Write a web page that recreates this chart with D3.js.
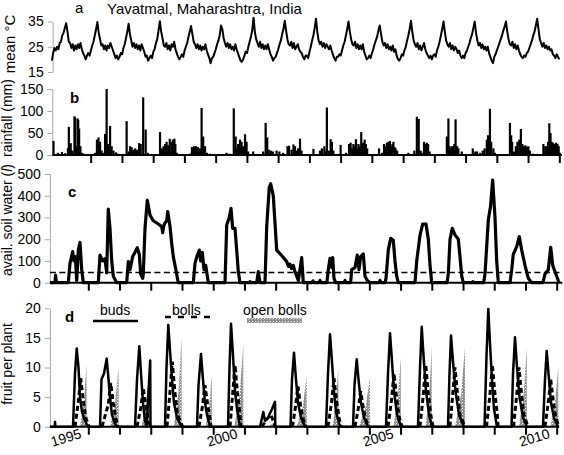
<!DOCTYPE html>
<html><head><meta charset="utf-8">
<script src="https://cdn.jsdelivr.net/npm/d3@7"></script>
<style>body{margin:0;background:#fff}svg{display:block}text{font-family:"Liberation Sans",Arial,sans-serif}</style>
</head><body><svg id="c" width="564" height="455"></svg>
<script>
// ---------------- DATA ----------------
const yearTicks = [1995,1996,1997,1998,1999,2000,2001,2002,2003,2004,2005,2006,2007,2008,2009,2010];
const yearLabels = [1995,2000,2005,2010];
const timeExtent = [1993.77, 2010.08];
const tempTicks = [15,25,35];
const rainTicks = [0,50,100,150];
const soilTicks = [0,100,200,300,400,500];
const fruitTicks = [0,5,10,15,20];
const soilThreshold = 47;

// (a) mean temperature, half-monthly values, first value at tempStart
const tempStart = 1993 + 20/24;
const tempStep = 1/24;
const temperature = [
 19.5,22.5,24.5,23.5,
 25,24,26.5,27,29.5,30.5,32.5,34.3,31,27,26.5,24.5,26,23.5,25.5,24,26,24.5,26.5,24,22.5,21.5,20,21.5,
 22.5,21.5,23.5,25.5,27,29.5,32,34.8,30.5,28,25.5,26,24,25.5,23.5,25.5,24.5,26.5,25,23.5,22,20.5,21.5,20,
 21,22.5,22,24.5,26,28.5,31,34.1,30,27.5,25,26.5,24.5,26,24,25.5,23.5,26,24.5,23,21,21.5,19.5,20.5,
 21.5,20.5,23,24,26.5,28,31.5,35.1,31,28.5,25.5,25,26.5,24,25.5,23.5,26,25,27,24,22.5,21,20,21,
 22,21,23.5,25,26.5,29,31,33.2,30,27,26,24.5,26,24,25.5,23.5,25,24,26,23.5,22,20.5,18.5,20.5,
 21,22.5,24,26,27.5,29.5,33.4,32,28.5,26.5,25,26.5,24.5,26,24,25,23.5,26,24,22.5,21,19.5,19,20,
 21.5,23,22.5,25,27,29,31.5,36.5,31,28,26.5,25,27,24.5,26,24,25.5,24,26,24,22,21,19.5,20.5,
 21,22.5,24,26,27.5,30,32,35.3,31.5,28,26,25.5,27,24.5,26.5,24,25,26,24,23,22.5,21,20,21.5,
 21.5,20.5,23,25,27.5,29.5,32.5,36.1,31,27.5,26,27,25,26.5,24.5,26,25,24,25.5,23.5,22,20.5,19.5,21,
 21,22,21.5,23.5,25.5,27,29.5,32,35,31,28,26,25.5,27,24.5,26,24,25.5,24,26,23,21.5,20,20.5,
 21.5,20.5,22.5,24,26,27.5,29,31.5,33.4,30,27,25.5,26.5,24.5,26,24,25,23.5,25.5,23,24,21.5,20,19.5,
 20.5,22,21.5,23.5,25,27.5,29.5,32,35.3,31,27.5,26,25,26.5,24,25.5,23.5,25,26.5,24,22.5,21.5,20.5,21.5,
 20,21.5,22,21,23.5,25,27,29.5,32,35,31,27.5,26,25,26.5,24,25.5,23.5,25,24,22.5,23.5,21.5,20.5,
 21.5,20.5,22.5,23.5,25,26.5,28.5,30,32.5,35,30.5,27.5,25.5,26.5,24.5,26,24,25,23.5,25,22.5,21,19.5,18.5,
 21,22,23.5,25,26.5,28,29.5,31.5,33,35,31,28,26,25.5,27,24.5,26,24,25.5,23.5,22,21,20.5,21.5,
 21,22.5,23,24.5,26,27.5,29.5,31,33.5,36.1,32,28,26.5,25,26.5,24.5,25.5,24,25,23.5,24,22,21.5,20.5,
 22,21,20
];

// (b) rainfall events [year, mm]
const rainfall = [
 [1993.81,32],[1993.95,5],[1994.08,7],[1994.18,4],[1994.27,15],[1994.30,64],[1994.36,27],[1994.41,10],[1994.48,88],[1994.50,85],[1994.53,20],[1994.58,83],[1994.60,80],[1994.63,60],[1994.67,20],[1994.72,5],[1994.79,3],
 [1995.14,5],[1995.20,35],[1995.25,40],[1995.30,30],[1995.35,10],[1995.41,5],[1995.46,48],[1995.51,150],[1995.56,25],[1995.62,66],[1995.67,20],[1995.73,10],[1995.81,6],[1995.87,3],
 [1996.15,77],[1996.21,8],[1996.26,20],[1996.31,18],[1996.36,12],[1996.42,15],[1996.48,12],[1996.55,27],[1996.60,25],[1996.68,131],[1996.76,58],[1996.83,5],
 [1997.22,52],[1997.28,15],[1997.33,20],[1997.38,25],[1997.43,30],[1997.48,22],[1997.53,37],[1997.59,30],[1997.63,35],[1997.68,37],[1997.71,25],[1997.76,5],
 [1998.18,3],[1998.24,18],[1998.31,20],[1998.37,20],[1998.43,18],[1998.50,15],[1998.55,107],[1998.60,42],[1998.66,20],[1998.72,5],[1998.82,3],
 [1999.35,5],[1999.45,3],[1999.58,106],[1999.64,42],[1999.68,15],[1999.72,25],[1999.78,35],[1999.83,30],[1999.88,20],[1999.94,47],[1999.99,30],[2000.04,8],
 [2000.20,8],[2000.52,8],[2000.60,73],[2000.65,40],[2000.70,12],[2000.77,10],[2000.83,8],[2000.95,10],[2001.04,8],[2001.16,5],
 [2001.30,20],[2001.35,21],[2001.43,12],[2001.49,24],[2001.54,20],[2001.59,10],[2001.64,15],[2001.70,37],[2001.75,10],
 [2002.13,14],[2002.34,10],[2002.40,15],[2002.48,20],[2002.52,8],[2002.56,108],[2002.62,10],[2002.68,36],[2002.72,30],[2002.77,10],
 [2003.00,23],[2003.17,5],[2003.27,25],[2003.32,28],[2003.36,15],[2003.41,25],[2003.46,20],[2003.49,36],[2003.53,15],[2003.57,25],[2003.61,20],[2003.66,52],[2003.72,28],[2003.77,35],[2003.81,25],[2003.85,15],
 [2004.23,15],[2004.33,5],[2004.39,25],[2004.44,20],[2004.48,28],[2004.53,30],[2004.58,32],[2004.62,20],[2004.66,25],[2004.69,30],[2004.73,18],[2004.76,15],[2004.81,10],
 [2005.17,5],[2005.36,10],[2005.44,87],[2005.50,82],[2005.56,10],[2005.61,5],[2005.67,30],[2005.71,25],[2005.76,28],[2005.80,25],[2005.85,8],
 [2006.40,42],[2006.45,83],[2006.49,20],[2006.52,15],[2006.57,20],[2006.61,20],[2006.64,25],[2006.68,81],[2006.73,20],[2006.77,15],[2006.88,8],
 [2007.23,15],[2007.31,8],[2007.37,8],[2007.47,5],[2007.55,10],[2007.61,15],[2007.68,35],[2007.72,45],[2007.76,40],[2007.78,105],[2007.82,30],[2007.89,15],[2007.94,5],
 [2008.42,73],[2008.46,45],[2008.49,30],[2008.55,8],[2008.61,20],[2008.66,30],[2008.72,35],[2008.77,59],[2008.82,25],[2008.87,20],[2008.92,22],[2008.96,18],[2009.01,20],[2009.06,10],[2009.16,3],
 [2009.49,25],[2009.55,20],[2009.60,20],[2009.64,30],[2009.68,72],[2009.72,50],[2009.76,30],[2009.80,28],[2009.85,25],[2009.90,28],[2009.94,25],[2009.98,20],[2010.02,5]
];

// (c) available soil water [year, value]
const soilWater = [
 [1993.774,0],[1993.934,0],[1993.950,35],[1993.982,0],
 [1994.360,0],[1994.414,89],[1994.500,143],[1994.542,100],[1994.584,120],[1994.629,10],[1994.680,150],[1994.734,185],[1994.789,60],[1994.840,0],
 [1995.320,0],[1995.375,127],[1995.461,100],[1995.535,110],[1995.589,45],[1995.640,338],[1995.695,250],[1995.749,100],[1995.801,30],[1995.909,0],
 [1996.230,0],[1996.281,97],[1996.335,60],[1996.422,120],[1996.496,140],[1996.569,161],[1996.633,130],[1996.678,40],[1996.742,20],[1996.761,40],[1996.816,250],[1996.889,380],[1996.976,311],[1997.082,285],[1997.242,270],[1997.351,258],[1997.383,230],[1997.415,262],[1997.456,275],[1997.511,285],[1997.543,327],[1997.616,260],[1997.671,180],[1997.722,120],[1997.776,80],[1997.882,0],
 [1998.363,0],[1998.417,90],[1998.491,126],[1998.555,150],[1998.600,100],[1998.651,140],[1998.705,60],[1998.760,80],[1998.843,0],
 [1999.378,0],[1999.432,265],[1999.515,300],[1999.570,342],[1999.624,250],[1999.698,250],[1999.752,150],[1999.804,50],[1999.858,0],
 [2000.150,0],[2000.178,5],[2000.210,0],[2000.393,0],[2000.444,51],[2000.499,0],
 [2000.659,0],[2000.713,258],[2000.796,440],[2000.841,455],[2000.924,400],[2001.033,150],[2001.193,125],[2001.354,97],[2001.411,75],[2001.459,85],[2001.507,65],[2001.565,80],[2001.620,50],[2001.674,30],[2001.725,10],[2001.779,60],[2001.834,115],[2001.885,0],
 [2002.160,0],[2002.196,8],[2002.230,0],[2002.390,0],[2002.420,10],[2002.450,0],
 [2002.640,0],[2002.686,60],[2002.740,112],[2002.795,70],[2002.827,115],[2002.868,20],[2002.923,0],
 [2003.190,0],[2003.221,10],[2003.250,0],[2003.400,0],[2003.435,60],[2003.541,70],[2003.614,127],[2003.669,60],[2003.723,120],[2003.807,132],[2003.861,30],[2003.935,10],[2004.021,0],
 [2004.310,0],[2004.341,10],[2004.370,0],[2004.500,0],[2004.534,20],[2004.607,150],[2004.684,204],[2004.767,195],[2004.822,100],[2004.876,30],[2004.927,0],
 [2005.462,0],[2005.517,100],[2005.623,219],[2005.709,269],[2005.815,270],[2005.888,200],[2005.943,80],[2005.997,0],
 [2006.487,0],[2006.529,40],[2006.583,200],[2006.657,250],[2006.743,220],[2006.849,200],[2006.903,120],[2006.958,30],[2007.009,0],
 [2007.290,0],[2007.320,5],[2007.350,0],[2007.660,0],[2007.704,40],[2007.810,288],[2007.880,350],[2007.950,472],[2008.024,300],[2008.078,100],[2008.130,0],
 [2008.505,0],[2008.559,60],[2008.610,130],[2008.719,166],[2008.802,212],[2008.879,150],[2008.985,80],[2009.091,20],[2009.199,0],
 [2009.561,0],[2009.625,40],[2009.731,60],[2009.808,163],[2009.872,80],[2009.946,50],[2010.051,10],[2010.080,0]
];

// (d) fruit per plant
const buds = [
 [1993.774,0],[1993.925,0],[1993.934,0.8],[1993.945,0],
 [1994.510,0],[1994.574,9],[1994.629,13.2],[1994.686,10],[1994.734,5],[1994.798,2.5],[1994.894,1],[1994.990,0],
 [1995.375,0],[1995.423,8],[1995.503,9],[1995.589,11.5],[1995.647,8],[1995.695,5],[1995.759,2],[1995.855,0.5],[1995.919,0],
 [1996.496,0],[1996.560,8],[1996.633,13.6],[1996.688,9],[1996.752,4],[1996.816,1],[1996.870,0],[1996.982,11.2],[1996.992,0],
 [1997.456,0],[1997.504,10],[1997.562,17.2],[1997.616,13],[1997.680,8],[1997.744,4],[1997.841,1.5],[1997.991,0],
 [1998.481,0],[1998.529,7],[1998.609,12.3],[1998.673,8],[1998.737,4],[1998.801,2],[1998.897,0],
 [1999.474,0],[1999.522,10],[1999.570,17.4],[1999.634,12],[1999.698,6],[1999.762,3],[1999.858,0],
 [2000.499,0],[2000.604,2.5],[2000.659,1],[2000.755,1.5],[2000.883,3],[2000.979,4.2],[2000.988,0],
 [2001.475,0],[2001.523,8],[2001.587,12.5],[2001.651,8],[2001.716,4],[2001.812,1.5],[2001.940,0],
 [2002.612,0],[2002.676,9],[2002.740,15.6],[2002.804,11],[2002.868,6],[2002.932,2.5],[2003.060,0],
 [2003.477,0],[2003.525,7],[2003.595,11.4],[2003.653,8],[2003.733,4],[2003.829,1.5],[2003.957,0],
 [2004.534,0],[2004.598,9],[2004.662,15.8],[2004.726,11],[2004.790,6],[2004.886,2],[2005.014,0],
 [2005.558,0],[2005.623,10],[2005.677,16.9],[2005.735,12],[2005.815,6],[2005.911,2],[2006.007,0],
 [2006.519,0],[2006.567,9],[2006.615,15.4],[2006.679,11],[2006.759,6],[2006.871,2],[2007.031,0],
 [2007.688,0],[2007.752,12],[2007.810,19.9],[2007.864,14],[2007.928,8],[2007.992,3],[2008.088,0],
 [2008.553,0],[2008.601,9],[2008.665,15.1],[2008.729,10],[2008.809,5],[2008.921,1.5],[2009.049,0],
 [2009.561,0],[2009.625,8],[2009.680,12.8],[2009.737,9],[2009.818,4],[2009.913,1.5],[2010.042,0],[2010.070,0]
];
const bolls = [
 [[1994.574,0],[1994.677,4.1],[1994.757,8.2],[1994.837,4.5],[1994.917,1.6],[1995.022,0]],
 [[1995.439,0],[1995.637,3.7],[1995.717,7.4],[1995.797,4.1],[1995.877,1.5],[1995.951,0]],
 [[1996.560,0],[1996.681,3.2],[1996.761,6.5],[1996.841,3.6],[1996.921,1.3],[1996.990,0]],
 [[1997.520,0],[1997.610,5.5],[1997.690,11],[1997.770,6],[1997.850,2.2],[1998.023,0]],
 [[1998.545,0],[1998.657,3.5],[1998.737,7],[1998.817,3.9],[1998.897,1.4],[1998.929,0]],
 [[1999.538,0],[1999.618,5.2],[1999.698,10.4],[1999.778,5.7],[1999.858,2.1],[1999.890,0]],
 [[2000.560,0],[2000.700,1.2],[2000.850,2],[2000.990,0]],
 [[2001.539,0],[2001.635,3.4],[2001.715,6.8],[2001.795,3.7],[2001.875,1.4],[2001.972,0]],
 [[2002.676,0],[2002.788,4.1],[2002.868,8.2],[2002.948,4.5],[2003.028,1.6],[2003.092,0]],
 [[2003.541,0],[2003.643,3],[2003.723,6],[2003.803,3.3],[2003.883,1.2],[2003.989,0]],
 [[2004.598,0],[2004.710,4.5],[2004.790,9],[2004.870,5],[2004.950,1.8],[2005.046,0]],
 [[2005.622,0],[2005.725,5.2],[2005.805,10.5],[2005.885,5.8],[2005.965,2.1],[2006.039,0]],
 [[2006.583,0],[2006.663,5],[2006.743,10],[2006.823,5.5],[2006.903,2],[2007.063,0]],
 [[2007.752,0],[2007.858,5.2],[2007.938,10.5],[2008.018,5.8],[2008.098,2.1],[2008.120,0]],
 [[2008.617,0],[2008.713,5],[2008.793,10],[2008.873,5.5],[2008.953,2],[2009.081,0]],
 [[2009.625,0],[2009.728,4],[2009.808,8],[2009.888,4.4],[2009.968,1.6],[2010.074,0]]
];
const openBolls = [
 [[1994.734,0],[1994.860,4.2],[1994.942,10.5],[1994.946,0]],
 [[1995.695,0],[1995.860,4],[1995.967,10],[1995.971,0]],
 [[1996.704,0],[1996.830,3.2],[1996.921,8],[1996.925,0]],
 [[1997.744,0],[1997.890,6],[1997.985,15],[1997.989,0]],
 [[1998.753,0],[1998.870,3.5],[1998.952,8.7],[1998.956,0]],
 [[1999.682,0],[1999.850,5.6],[1999.964,14],[1999.968,0]],
 [[2000.755,0],[2000.900,0.5],[2001.011,1],[2001.015,0]],
 [[2001.683,0],[2001.870,3.4],[2001.994,8.6],[2001.998,0]],
 [[2002.820,0],[2002.930,4],[2003.006,10],[2003.010,0]],
 [[2003.669,0],[2003.880,3.3],[2004.021,8.3],[2004.025,0]],
 [[2004.774,0],[2004.910,4.6],[2005.004,11.6],[2005.008,0]],
 [[2005.798,0],[2005.920,5.4],[2005.997,13.4],[2006.001,0]],
 [[2006.743,0],[2006.940,5.4],[2007.063,13.4],[2007.067,0]],
 [[2008.793,0],[2008.940,5.3],[2009.039,13.2],[2009.043,0]],
 [[2009.802,0],[2009.950,4.1],[2010.051,10.2],[2010.055,0]]
];

// ---------------- DRAW ----------------
const svg = d3.select('#c');
svg.append('rect').attr('width',564).attr('height',455).attr('fill','#fff');
const defs = svg.append('defs');
const pat = defs.append('pattern').attr('id','stip').attr('patternUnits','userSpaceOnUse').attr('width',3).attr('height',3);
pat.append('rect').attr('width',3).attr('height',3).attr('fill','#8e8e8e');
pat.append('rect').attr('x',0).attr('y',0).attr('width',1).attr('height',1).attr('fill','#f4f4f4');
pat.append('rect').attr('x',2).attr('y',1).attr('width',1).attr('height',1).attr('fill','#c4c4c4');

const GRAY = '#a6a6a6';
const FONT = '"Liberation Sans", Arial, sans-serif';
const xMain = d3.scaleLinear().domain([1995,2010]).range([88.3,556.7]);
const xRain = d3.scaleLinear().domain([1995,2010]).range([90.7,559.3]);

function yAxis(scale, ticks, x) {
  const g = svg.append('g').attr('transform',`translate(${x},0)`)
    .call(d3.axisLeft(scale).tickValues(ticks).tickSize(5).tickSizeOuter(0).tickPadding(4));
  g.select('.domain').attr('stroke',GRAY);
  g.selectAll('.tick line').attr('stroke',GRAY);
  g.selectAll('.tick text').attr('font-size',14).attr('font-family',FONT).attr('fill','#000');
  return g;
}
function xAxis(xs, y, x0, x1) {
  const g = svg.append('g').attr('transform',`translate(0,${y})`)
    .call(d3.axisBottom(xs).tickValues(yearTicks).tickSize(8).tickFormat(''));
  g.select('.domain').remove();
  g.selectAll('.tick line').attr('stroke','#000').attr('stroke-width',2);
  svg.append('line').attr('x1',xs(x0)).attr('x2',xs(x1)).attr('y1',y).attr('y2',y)
    .attr('stroke','#000').attr('stroke-width',2);
}
function yTitle(txt, cx, cy, size) {
  return svg.append('text').attr('transform',`translate(${cx},${cy}) rotate(-90)`)
    .attr('text-anchor','middle').attr('font-size',size).attr('font-family',FONT).text(txt);
}
function letter(txt, x, y, bold) {
  svg.append('text').attr('x',x).attr('y',y).attr('font-size',15).attr('font-weight',bold?'bold':'normal')
    .attr('font-family',FONT).text(txt);
}

// ---- panel a
const yA = d3.scaleLinear().domain([15,35]).range([72,21.5]);
yAxis(yA, tempTicks, xMain(tempStart) + 0.8);
svg.append('path').datum(temperature)
  .attr('d', d3.line().x((d,i)=>xMain(tempStart + i*tempStep)).y(d=>yA(d)))
  .attr('fill','none').attr('stroke','#000').attr('stroke-width',2).attr('stroke-linejoin','round');
letter('a', 75, 13, false);
svg.append('text').attr('x',107).attr('y',13.5).attr('font-size',15).attr('font-family',FONT).text('Yavatmal, Maharashtra, India');
yTitle('mean °C', 15, 44, 15);

// ---- panel b
const yB = d3.scaleLinear().domain([0,150]).range([155,89]);
yAxis(yB, rainTicks, xRain(timeExtent[0]));
svg.append('g').selectAll('rect').data(rainfall).join('rect')
  .attr('x', d=>xRain(d[0]) - 1.1).attr('width',2.2)
  .attr('y', d=>yB(d[1])).attr('height', d=>yB(0)-yB(d[1])).attr('fill','#000');
xAxis(xRain, 155, timeExtent[0], timeExtent[1]);
letter('b', 70, 103, true);
yTitle('rainfall (mm)', 12, 118, 14);

// ---- panel c
const yC = d3.scaleLinear().domain([0,500]).range([282.7,174]);
yAxis(yC, soilTicks, xMain(timeExtent[0]));
svg.append('line').attr('x1',xMain(timeExtent[0])).attr('x2',xMain(timeExtent[1]+0.1))
  .attr('y1',yC(soilThreshold)).attr('y2',yC(soilThreshold))
  .attr('stroke','#000').attr('stroke-width',1.6).attr('stroke-dasharray','6,3.5');
xAxis(xMain, yC(0), timeExtent[0], timeExtent[1]+0.1);
svg.append('path').datum(soilWater)
  .attr('d', d3.line().x(d=>xMain(d[0])).y(d=>yC(d[1])))
  .attr('fill','none').attr('stroke','#000').attr('stroke-width',3.2).attr('stroke-linejoin','round');
letter('c', 68, 197, true);
const st = yTitle('', 12, 220, 14);
st.append('tspan').text('avail. soil water (');
st.append('tspan').attr('font-style','italic').text('l');
st.append('tspan').text(')');

// ---- panel d
const yD = d3.scaleLinear().domain([0,20]).range([426.7,308.3]);
yAxis(yD, fruitTicks, xMain(timeExtent[0]));
svg.append('g').selectAll('path').data(openBolls).join('path')
  .attr('d', d3.area().x(d=>xMain(d[0])).y0(yD(0)).y1(d=>yD(d[1])))
  .attr('fill','url(#stip)');
xAxis(xMain, yD(0), timeExtent[0], timeExtent[1]);
svg.append('path').datum(buds)
  .attr('d', d3.line().x(d=>xMain(d[0])).y(d=>yD(d[1])))
  .attr('fill','none').attr('stroke','#000').attr('stroke-width',2.5).attr('stroke-linejoin','round');
svg.append('g').selectAll('path').data(bolls).join('path')
  .attr('d', d3.line().x(d=>xMain(d[0])).y(d=>yD(d[1])))
  .attr('fill','none').attr('stroke','#000').attr('stroke-width',3).attr('stroke-dasharray','5,3');
letter('d', 65, 322, true);
yTitle('fruit per plant', 12, 364, 14);
// year labels
svg.append('g').selectAll('text').data(yearLabels).join('text')
  .attr('transform', d=>`translate(${xMain(d)-6},${yD(0)+11}) rotate(-17)`)
  .attr('text-anchor','end').attr('font-size',14).attr('font-family',FONT).text(d=>d);
// legend
svg.append('text').attr('x',100).attr('y',315).attr('font-size',14).attr('font-family',FONT).text('buds');
svg.append('line').attr('x1',93).attr('x2',138).attr('y1',321).attr('y2',321).attr('stroke','#000').attr('stroke-width',2.5);
svg.append('text').attr('x',172).attr('y',315).attr('font-size',14).attr('font-family',FONT).text('bolls');
svg.append('line').attr('x1',165).attr('x2',211).attr('y1',317).attr('y2',317).attr('stroke','#000').attr('stroke-width',2.5).attr('stroke-dasharray','6,7');
svg.append('rect').attr('x',247).attr('y',318).attr('width',55).attr('height',5).attr('fill','url(#stip)');
svg.append('text').attr('x',243).attr('y',315).attr('font-size',14).attr('font-family',FONT).text('open bolls');
</script></body></html>
